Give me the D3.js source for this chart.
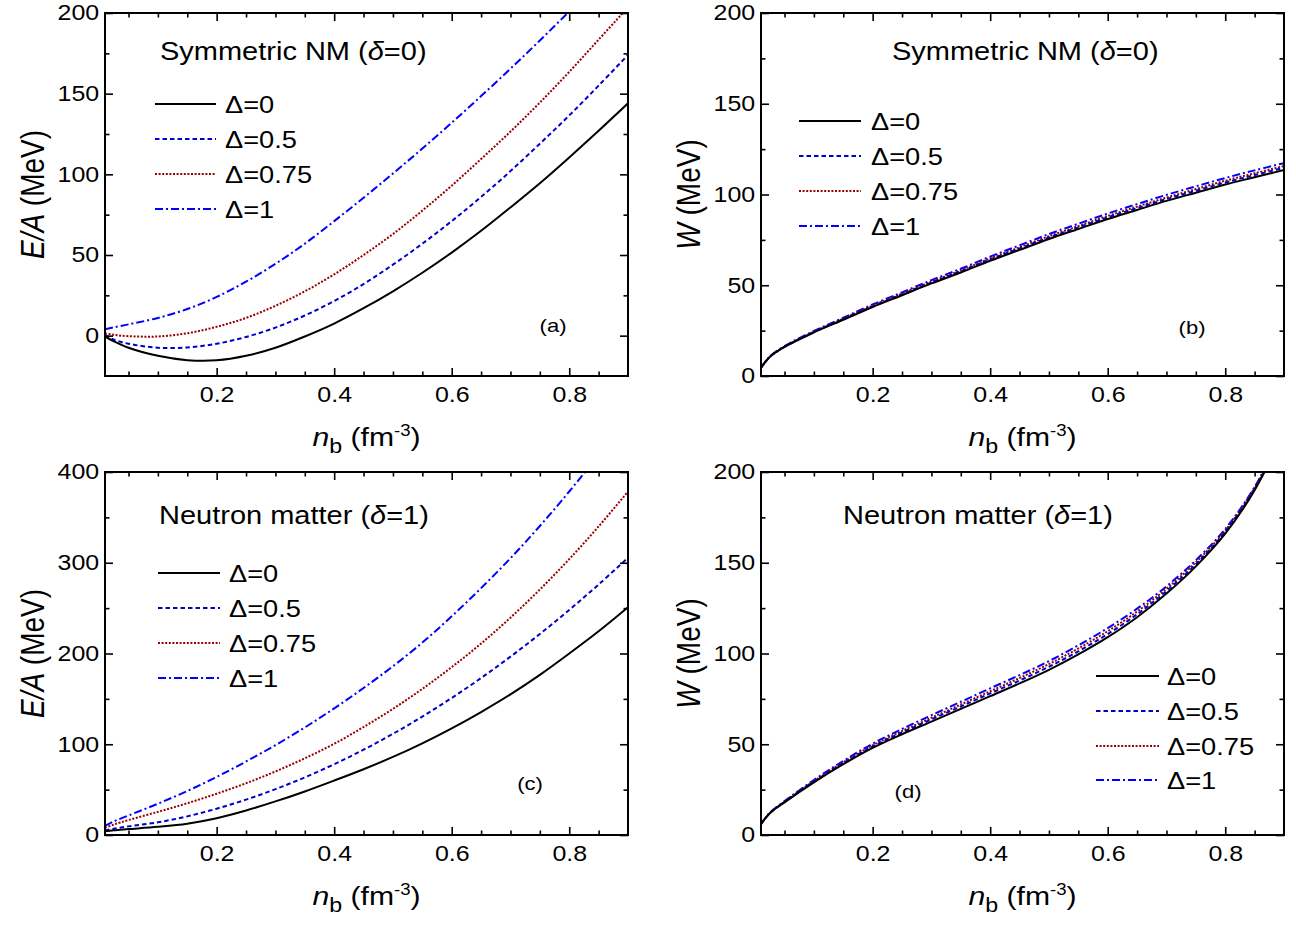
<!DOCTYPE html>
<html><head><meta charset="utf-8">
<script src="https://cdn.jsdelivr.net/npm/d3@7"></script>
<style>
html,body{margin:0;padding:0;background:#fff;}
svg text{font-family:"Liberation Sans",Arial,sans-serif;fill:#000;}
</style></head>
<body><svg id="c" width="1296" height="926"></svg>
<script>
// ---------------- data ----------------
const nb = [0.01,0.025,0.05,0.1,0.15,0.2,0.25,0.3,0.35,0.4,0.45,0.5,0.55,0.6,0.65,0.7,0.75,0.8,0.85,0.9];
const seriesNames = ["\u0394=0","\u0394=0.5","\u0394=0.75","\u0394=1"];

// (a) E/A symmetric nuclear matter
const eaSym_d0   = [-0.5,-3.5,-7.5,-12.5,-15.2,-15.3,-12.5,-7.5,-0.5,7.5,17,27.5,39,51.5,65,79.5,94.5,110.5,127,144];
const eaSym_d05  = [0.5,-2.5,-5,-7.5,-7.3,-5,-0.8,5,12.5,21.5,32,44,57,71,86,102,119,136.5,155,174];
const eaSym_d075 = [1.5,0.5,-0.3,-0.5,1.5,5.5,11,18.5,27.5,38,50,63,77.5,93,109.5,126.5,144.5,163.5,183.5,203.5];
const eaSym_d1   = [4,5.2,7,11,16.5,24,33.5,44.5,57,71,85.5,100.5,116,132,148.5,165.5,183,201,219.5,238.5];

// (b) W symmetric nuclear matter
const wSym_d0   = [4.5,10.5,16,24,31,38,44.5,51,57,63.5,69.5,75.5,81,86.5,91.5,96.5,101,105.5,109.5,113.5];
const wSym_d05  = [4.5,10.5,16,24.2,31.3,38.4,45,51.5,57.7,64.2,70.3,76.3,81.9,87.4,92.5,97.5,102.1,106.6,110.7,114.7];
const wSym_d075 = [4.5,10.6,16.2,24.4,31.6,38.8,45.4,52,58.2,64.8,70.9,77,82.6,88.2,93.3,98.3,103,107.6,111.7,115.7];
const wSym_d1   = [4.6,10.8,16.5,24.8,32.1,39.4,46.1,52.8,59.1,65.8,72,78.2,83.9,89.5,94.7,99.8,104.5,109.1,113.3,117.3];

// (c) E/A neutron matter
const eaNeu_d0   = [4,5.2,6.5,9,12.5,18.5,27,37,48,60,72.5,86,101,117.5,135.5,155,176.5,200,224.5,251];
const eaNeu_d05  = [5,7,9.5,14,20.5,29,39,50.5,63.5,78,94,111.5,130.5,151,173,196.5,221.5,248,276,305.5];
const eaNeu_d075 = [8,11.5,16.5,25.5,35,45.5,57,70,84.5,100.5,119,139,161,185,211,239.5,270.5,304,340,378.5];
const eaNeu_d1   = [10,15,21.5,34.5,48.5,64,81,99,118.5,139.5,162,186,212,241,272,305,340.5,378.5,419,462];

// (d) W neutron matter
const wNeu_d0   = [6,12,18,29,39,48,55.5,62.5,69.5,76.5,83.5,91,99.5,109,120,133,148,166,190,222];
const wNeu_d05  = [6,12,18.2,29.4,39.6,48.8,56.5,63.7,70.8,78,85.1,92.7,101.2,110.7,121.6,134.4,149.2,167,190.7,222.3];
const wNeu_d075 = [6,12.1,18.4,29.7,40.1,49.4,57.3,64.6,71.9,79.2,86.5,94.2,102.8,112.3,123.1,135.7,150.3,167.8,191.3,222.6];
const wNeu_d1   = [6.1,12.3,18.7,30.3,40.8,50.3,58.4,66,73.4,80.8,88.1,95.8,104.5,114,124.7,137,151.4,168.6,191.8,223];

const xTicks = [0.2,0.4,0.6,0.8];
const yTicksA = [0,50,100,150,200];
const yTicksB = [0,50,100,150,200];
const yTicksC = [0,100,200,300,400];
const yTicksD = [0,50,100,150,200];
const titles = ["Symmetric NM (", "Neutron matter ("];
const titleDelta = ["=0)", "=1)"];
const panelLetters = ["(a)","(b)","(c)","(d)"];

// ---------------- styles / layout ----------------
const SX = 1.16; // horizontal stretch of the original figure's text
const styles = [
  {color:"#000000", dash:null},
  {color:"#0000cc", dash:"4.5,3"},
  {color:"#990000", dash:"2,1.6"},
  {color:"#0000ff", dash:"8,3,2,3"}
];
const panels = [
  {x0:105,x1:628,y0:13,y1:376, yDom:[-25,200], yT:yTicksA, yMinor:25, data:[eaSym_d0,eaSym_d05,eaSym_d075,eaSym_d1], yLab:"EA", title:0, titleX:160, titleY:60, leg:{x1:155,x2:216,tx:225,y:[104,139,174,209]}, let:{x:553,y:332}},
  {x0:761,x1:1284,y0:13,y1:376, yDom:[0,200], yT:yTicksB, yMinor:25, data:[wSym_d0,wSym_d05,wSym_d075,wSym_d1], yLab:"W", title:0, titleX:892, titleY:60, leg:{x1:799,x2:861,tx:871,y:[121,156,191,226]}, let:{x:1192,y:334}},
  {x0:105,x1:628,y0:472,y1:835, yDom:[0,400], yT:yTicksC, yMinor:50, data:[eaNeu_d0,eaNeu_d05,eaNeu_d075,eaNeu_d1], yLab:"EA", title:1, titleX:159, titleY:524, leg:{x1:158,x2:220,tx:229,y:[573,608,643,678]}, let:{x:530,y:790}},
  {x0:761,x1:1284,y0:472,y1:835, yDom:[0,200], yT:yTicksD, yMinor:25, data:[wNeu_d0,wNeu_d05,wNeu_d075,wNeu_d1], yLab:"W", title:1, titleX:843, titleY:524, leg:{x1:1096,x2:1159,tx:1167,y:[676,711,746,780]}, let:{x:908,y:798}}
];

const svg = d3.select("#c");

function stext(g, x, y, anchor, size) {
  return g.append("text")
    .attr("transform", `translate(${x},${y}) scale(${SX},1)`)
    .attr("text-anchor", anchor).style("font-size", size + "px");
}

panels.forEach((p, pi) => {
  const xs = d3.scaleLinear().domain([0.01, 0.9]).range([p.x0, p.x1]);
  const ys = d3.scaleLinear().domain(p.yDom).range([p.y1, p.y0]);
  const g = svg.append("g");

  const cid = "clip" + pi;
  svg.append("clipPath").attr("id", cid).append("rect")
    .attr("x", p.x0).attr("y", p.y0).attr("width", p.x1 - p.x0).attr("height", p.y1 - p.y0);

  // curves
  const line = d3.line().x((d, i) => xs(nb[i])).y(d => ys(d)).curve(d3.curveCatmullRom.alpha(0.5));
  [3,2,1,0].forEach(k => {
    g.append("path").datum(p.data[k]).attr("d", line)
      .attr("clip-path", `url(#${cid})`)
      .attr("fill", "none").attr("stroke", styles[k].color).attr("stroke-width", 2)
      .attr("stroke-dasharray", styles[k].dash);
  });

  // minor ticks
  const xMinor = d3.range(0.05, 0.9, 0.05).map(v => +v.toFixed(2)).filter(v => !xTicks.includes(v));
  const yMinor = d3.range(p.yDom[0], p.yDom[1] + 0.001, p.yMinor).filter(v => !p.yT.includes(v) && v > p.yDom[0] && v < p.yDom[1]);

  const axes = [
    {ax: d3.axisBottom(xs).tickValues(xTicks), tr:`translate(0,${p.y1})`, lab:true, pad:11},
    {ax: d3.axisTop(xs).tickValues(xTicks), tr:`translate(0,${p.y0})`, lab:false},
    {ax: d3.axisLeft(ys).tickValues(p.yT), tr:`translate(${p.x0},0)`, lab:true, pad:5},
    {ax: d3.axisRight(ys).tickValues(p.yT), tr:`translate(${p.x1},0)`, lab:false},
    {ax: d3.axisBottom(xs).tickValues(xMinor), tr:`translate(0,${p.y1})`, minor:true},
    {ax: d3.axisTop(xs).tickValues(xMinor), tr:`translate(0,${p.y0})`, minor:true},
    {ax: d3.axisLeft(ys).tickValues(yMinor), tr:`translate(${p.x0},0)`, minor:true},
    {ax: d3.axisRight(ys).tickValues(yMinor), tr:`translate(${p.x1},0)`, minor:true}
  ];
  axes.forEach(a => {
    const ax = a.ax.tickSizeOuter(0).tickSizeInner(a.minor ? -4.5 : -8).tickPadding(a.pad || 0);
    if (!a.lab) ax.tickFormat(() => "");
    else ax.tickFormat(d => String(d));
    const gg = g.append("g").attr("transform", a.tr).call(ax);
    gg.select(".domain").remove();
    gg.selectAll(".tick line").attr("stroke", "#000").attr("stroke-width", 1.6);
    gg.selectAll(".tick text").style("font-size", "21.5px")
      .style("font-family", '"Liberation Sans",Arial,sans-serif')
      .attr("transform", `scale(${SX},1)`);
  });

  // frame
  g.append("rect").attr("x", p.x0).attr("y", p.y0).attr("width", p.x1 - p.x0).attr("height", p.y1 - p.y0)
    .attr("fill", "none").attr("stroke", "#000").attr("stroke-width", 2);

  // title
  const t = stext(g, p.titleX, p.titleY, "start", 25);
  t.append("tspan").text(titles[p.title]);
  t.append("tspan").style("font-style", "italic").text("\u03B4");
  t.append("tspan").text(titleDelta[p.title]);

  // legend
  seriesNames.forEach((nm, k) => {
    g.append("line").attr("x1", p.leg.x1).attr("x2", p.leg.x2).attr("y1", p.leg.y[k]).attr("y2", p.leg.y[k])
      .attr("stroke", styles[k].color).attr("stroke-width", 2).attr("stroke-dasharray", styles[k].dash);
    stext(g, p.leg.tx, p.leg.y[k] + 9, "start", 23.5).text(nm);
  });

  // panel letter
  stext(g, p.let.x, p.let.y, "middle", 19).text(panelLetters[pi]);

  // x label
  const cx = (p.x0 + p.x1) / 2;
  const xl = stext(g, cx, p.y1 + 70, "middle", 26);
  xl.append("tspan").style("font-style", "italic").text("n");
  xl.append("tspan").attr("dy", 7).style("font-size", "20px").text("b");
  xl.append("tspan").attr("dy", -7).text(" (fm");
  xl.append("tspan").attr("dy", -10).style("font-size", "16px").text("-3");
  xl.append("tspan").attr("dy", 10).text(")");

  // y label
  const cy = (p.y0 + p.y1) / 2;
  const ylx = pi % 2 === 0 ? 44 : 700;
  const yl = g.append("text")
    .attr("transform", `translate(${ylx},${cy}) scale(${SX},1) rotate(-90)`)
    .attr("text-anchor", "middle").style("font-size", "28px");
  yl.append("tspan").style("font-style", "italic").text(p.yLab === "EA" ? "E/A" : "W");
  yl.append("tspan").text(" (MeV)");
});
</script></body></html>
